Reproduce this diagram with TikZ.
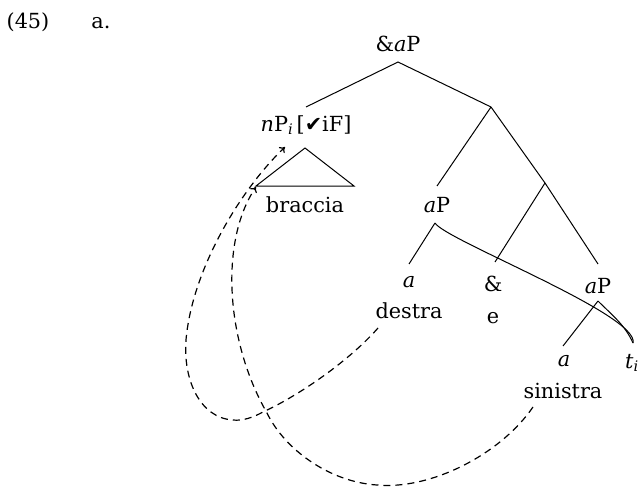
\documentclass[tikz,border=0pt]{standalone}
\usepackage{fontspec}
\setmainfont{DejaVu Serif}
\newfontfamily\symfont{DejaVu Sans}
\usetikzlibrary{arrows.meta}
\begin{document}
\begin{tikzpicture}[x=1pt,y=-1pt,
  lbl/.style={anchor=base,inner sep=0pt,font=\fontsize{20.8}{24}\selectfont},
  branch/.style={line width=1pt},
  mvt/.style={line width=1.2pt,dash pattern=on 7pt off 5pt,-{To[length=5pt,width=8pt]}}]
\useasboundingbox (0,0) rectangle (639,487);
% labels
\node[lbl] (ex) at (28,29) {(45)};
\node[lbl] (sub) at (101,29) {a.};
\node[lbl] (root) at (398,52) {\&\textit{a}P};
\node[lbl] (np) at (306,131) {\textit{n}P\textsubscript{\textit{i}}\,[{\symfont ✔}iF]};
\node[lbl] (braccia) at (305,212) {braccia};
\node[lbl] (aP1) at (437,212) {\textit{a}P};
\node[lbl] (a1) at (409,287) {\textit{a}};
\node[lbl] (destra) at (409,318) {destra};
\node[lbl] (amp) at (493,291) {\&};
\node[lbl] (e) at (493,323) {e};
\node[lbl] (aP2) at (598,293) {\textit{a}P};
\node[lbl] (a2) at (564,366) {\textit{a}};
\node[lbl] (sinistra) at (563,398) {sinistra};
\node[lbl] (ti) at (632,368) {\textit{t}\textsubscript{\textit{i}}};
% tree points
\coordinate (r) at (398,62);
\coordinate (rl) at (306,107);
\coordinate (x) at (491,107);
\coordinate (xl) at (437,186);
\coordinate (y) at (545,183);
\coordinate (yl) at (495,262);
\coordinate (yr) at (598,264);
\coordinate (t1) at (305,148);
\coordinate (t2) at (256,186);
\coordinate (t3) at (354,186);
\coordinate (p1) at (435,223);
\coordinate (p1l) at (409,264);
\coordinate (p2) at (598,301);
\coordinate (p2l) at (563,346);
\coordinate (tip) at (633,343);
\draw[branch] (rl) -- (r) -- (x);
\draw[branch] (x) -- (xl);
\draw[branch] (x) -- (y) -- (yr);
\draw[branch] (y) -- (yl);
\draw[branch] (t1) -- (t2) -- (t3) -- cycle;
\draw[branch] (p1) -- (p1l);
\draw[branch] (p2) -- (p2l);
\draw[branch] (p2) .. controls (612,315) and (625,325) .. (tip);
\draw[branch] (p1) .. controls (445,240) and (640,315) .. (tip);
% movement arrows
\coordinate (dA) at (378,328);
\coordinate (kA) at (263,412);
\coordinate (bA) at (233,420);
\coordinate (mA) at (186,340);
\coordinate (eA) at (285,147);
\draw[mvt] (dA) .. controls (350,360) and (300,395) .. (kA)
  .. controls (252,418) and (242,421) .. (bA)
  .. controls (200,418) and (183,380) .. (mA)
  .. controls (192,270) and (240,190) .. (eA);
\coordinate (sB) at (533,407);
\coordinate (bB) at (377,485);
\coordinate (kB) at (267,413);
\coordinate (eB) at (256,187);
\draw[mvt] (sB) .. controls (500,455) and (430,490) .. (bB)
  .. controls (330,482) and (285,450) .. (kB)
  .. controls (225,340) and (220,240) .. (eB);
\end{tikzpicture}
\end{document}
